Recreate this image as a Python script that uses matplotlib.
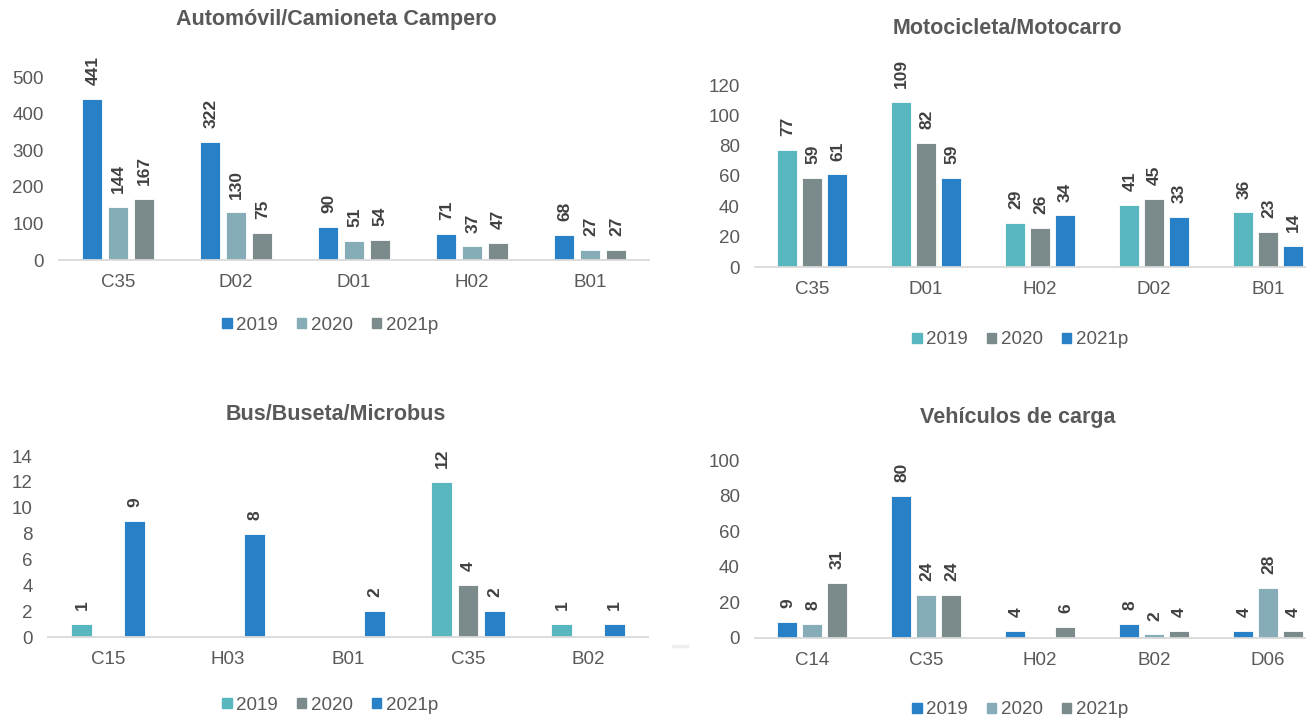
import numpy as np
import matplotlib
matplotlib.use("Agg")
from matplotlib import pyplot as plt
from matplotlib.patches import Patch
from matplotlib.lines import Line2D

#---------------------- DATA
years = ['2019', '2020', '2021p']

auto_cats = ['C35', 'D02', 'D01', 'H02', 'B01']
auto_2019 = [441, 322, 90, 71, 68]
auto_2020 = [144, 130, 51, 37, 27]
auto_2021 = [167, 75, 54, 47, 27]

moto_cats = ['C35', 'D01', 'H02', 'D02', 'B01']
moto_2019 = [77, 109, 29, 41, 36]
moto_2020 = [59, 82, 26, 45, 23]
moto_2021 = [61, 59, 34, 33, 14]

bus_cats = ['C15', 'H03', 'B01', 'C35', 'B02']
bus_2019 = [1, None, None, 12, 1]
bus_2020 = [None, None, None, 4, None]
bus_2021 = [9, 8, 2, 2, 1]

carga_cats = ['C14', 'C35', 'H02', 'B02', 'D06']
carga_2019 = [9, 80, 4, 8, 4]
carga_2020 = [8, 24, None, 2, 28]
carga_2021 = [31, 24, 6, 4, 4]

#---------------------- STYLE
BLUE = '#2880C6'
LIGHT = '#86ACB7'
GRAY = '#7B8B8C'
TEAL = '#58B6BF'
TXT = '#595959'
LBL = '#404040'

plt.rcParams['font.family'] = ['Liberation Sans', 'DejaVu Sans']

fig = plt.figure(figsize=(13.06, 7.21), dpi=100)


def panel(rect, title, cats, series, colors, ymax, ystep, title_xy, leg_xy):
    ax = fig.add_axes(rect)
    x = np.arange(len(cats))
    for k, (vals, col) in enumerate(zip(series, colors)):
        off = (k - 1) * 0.218
        for i, v in enumerate(vals):
            if v is None:
                continue
            ax.bar(x[i] + off, v, width=0.173, color=col,
                   edgecolor='white', linewidth=0.6)
            ax.annotate(str(v), (x[i] + off, v), xytext=(0.5, 10),
                        textcoords='offset points', rotation=90,
                        ha='center', va='bottom', fontsize=12.5,
                        fontweight='bold', color=LBL, annotation_clip=False)
    ax.set_xlim(-0.5, len(cats) - 0.5)
    ax.set_ylim(0, ymax)
    ax.set_yticks(np.arange(0, ymax + 1, ystep))
    ax.set_xticks(x)
    ax.set_xticklabels(cats)
    ax.tick_params(length=0, labelsize=13.5, colors=TXT)
    ax.tick_params(axis='x', pad=10)
    ax.tick_params(axis='y', pad=11)
    for s in ['top', 'right', 'left']:
        ax.spines[s].set_visible(False)
    ax.spines['bottom'].set_color('#D9D9D9')
    ax.spines['bottom'].set_linewidth(1.3)
    ax.patch.set_alpha(0)
    # title and legend placed in figure coords
    fig.text(title_xy[0], title_xy[1], title, ha='center', va='center',
             fontsize=15.5, fontweight='bold', color=TXT)
    handles = [Patch(color=c) for c in colors]
    fig.legend(handles, years, loc='center', bbox_to_anchor=leg_xy,
               ncol=3, frameon=False, fontsize=13.5, handlelength=0.5,
               handleheight=0.5, handletextpad=0.25, columnspacing=1.0,
               labelcolor=TXT)
    return ax


H = 721.0
W = 1306.0

panel([59 / W, 1 - 260 / H, 590 / W, 183 / H], 'Automóvil/Camioneta Campero',
      auto_cats, [auto_2019, auto_2020, auto_2021], [BLUE, LIGHT, GRAY],
      500, 100, (336 / W, 1 - 20 / H), (330 / W, 1 - 325 / H))

panel([755 / W, 1 - 267 / H, 570 / W, 182 / H], 'Motocicleta/Motocarro',
      moto_cats, [moto_2019, moto_2020, moto_2021], [TEAL, GRAY, BLUE],
      120, 20, (1007 / W, 1 - 28 / H), (1020 / W, 1 - 340 / H))

panel([48 / W, 1 - 637 / H, 600 / W, 181 / H], 'Bus/Buseta/Microbus',
      bus_cats, [bus_2019, bus_2020, bus_2021], [TEAL, GRAY, BLUE],
      14, 2, (336 / W, 1 - 414 / H), (330 / W, 1 - 705 / H))

panel([755 / W, 1 - 638 / H, 570 / W, 178 / H], 'Vehículos de carga',
      carga_cats, [carga_2019, carga_2020, carga_2021], [BLUE, LIGHT, GRAY],
      100, 20, (1018 / W, 1 - 417 / H), (1020 / W, 1 - 710 / H))

# small grey dash left of the last panel, as in the source image
fig.add_artist(Line2D([673 / W, 687 / W], [1 - 646 / H, 1 - 646 / H],
                      color='#EEEEEE', linewidth=2.5))

fig.savefig('out.png', dpi=100)
